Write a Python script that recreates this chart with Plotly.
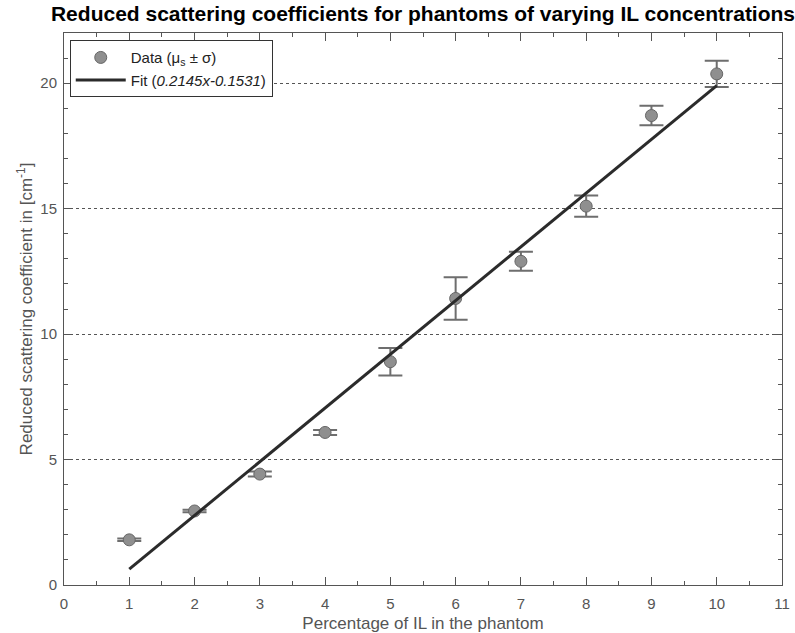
import plotly.graph_objects as go

# Data
il_percent = [1, 2, 3, 4, 5, 6, 7, 8, 9, 10]
mu_s = [1.80, 2.95, 4.42, 6.08, 8.90, 11.42, 12.90, 15.10, 18.71, 20.37]
sigma = [0.05, 0.05, 0.10, 0.10, 0.55, 0.85, 0.38, 0.42, 0.39, 0.52]

fit_x = [1, 10]
fit_y = [0.63, 19.90]

x_ticks = list(range(0, 12))
y_ticks = [0, 5, 10, 15, 20]

tick_font = dict(family="Liberation Sans, Arial, sans-serif", size=15, color="#555555")
title_font = dict(family="Liberation Sans, Arial, sans-serif", size=17, color="#555555")

fig = go.Figure()
fig.add_trace(go.Scatter(
    x=il_percent, y=mu_s, mode="markers",
    name="Data (μ<sub>s</sub> ± σ)",
    marker=dict(size=12, color="#8f8f8f", line=dict(color="#666666", width=1)),
    error_y=dict(type="data", array=sigma, visible=True, color="#6e6e6e", thickness=2, width=12),
))
fig.add_trace(go.Scatter(
    x=fit_x, y=fit_y, mode="lines",
    name="Fit (<i>0.2145x-0.1531</i>)",
    line=dict(color="#2b2b2b", width=3),
))

axis_common = dict(
    showline=True, linecolor="#555555", linewidth=1, mirror="ticks",
    ticks="inside", ticklen=8, tickcolor="#555555", tickwidth=1,
    tickfont=tick_font, zeroline=False, automargin=False,
)

fig.update_layout(
    width=795, height=633,
    margin=dict(l=64, r=13, t=33, b=48),
    paper_bgcolor="white", plot_bgcolor="white",
    title=dict(text="<b>Reduced scattering coefficients for phantoms of varying IL concentrations</b>",
               font=dict(family="Liberation Sans, Arial, sans-serif", size=21, color="black"),
               x=0.5, xanchor="center", y=0.99, yanchor="top", xref="paper"),
    xaxis=dict(range=[0, 11], tickvals=x_ticks, showgrid=False, ticklabelstandoff=5,
               minor=dict(dtick=0.5, ticklen=4, ticks="inside", tickcolor="#555555", showgrid=False),
               title=dict(text="Percentage of IL in the phantom", font=title_font, standoff=6),
               **axis_common),
    yaxis=dict(range=[0, 22], tickvals=y_ticks, showgrid=True, gridcolor="#555555", gridwidth=1,
               griddash="3px,3px", ticklabelstandoff=3,
               minor=dict(dtick=1, ticklen=4, ticks="inside", tickcolor="#555555", showgrid=False),
               title=dict(text="Reduced scattering coefficient in [cm<sup>-1</sup>]", font=title_font, standoff=3),
               **axis_common),
    legend=dict(x=0.008, y=0.987, xanchor="left", yanchor="top",
                bgcolor="white", bordercolor="#333333", borderwidth=1,
                font=dict(family="Liberation Sans, Arial, sans-serif", size=15, color="#222222"),
                tracegroupgap=2, itemwidth=50),
    showlegend=True,
)

fig.write_html("out.html")
